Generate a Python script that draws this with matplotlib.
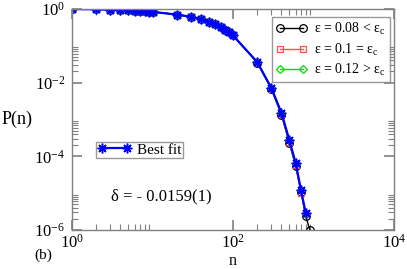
import numpy as np
import matplotlib
matplotlib.use("Agg")
import matplotlib.pyplot as plt
from matplotlib.ticker import FixedLocator, NullFormatter

plt.rcParams['font.family'] = ['Liberation Serif', 'DejaVu Serif']
plt.rcParams['mathtext.fontset'] = 'custom'
plt.rcParams['mathtext.rm'] = 'Liberation Serif'
plt.rcParams['mathtext.it'] = 'Liberation Serif'

# cluster sizes n and probabilities P(n)
n = [1, 2, 3, 4, 5, 6, 7, 8, 9, 10, 20, 30, 40, 50, 60, 70, 80, 90, 100,
     200, 300, 400, 500, 600, 700, 800, 900]
p_low = [0.99, 0.97, 0.95, 0.93, 0.91, 0.89, 0.87, 0.86, 0.84, 0.83, 0.70, 0.61,
         0.53, 0.45, 0.38, 0.32, 0.27, 0.23, 0.19,
         0.035, 0.0066, 1.35e-3, 2.3e-4, 5.5e-5, 1.1e-5, 2.4e-6, 1.0e-6]
p_mid = [0.99, 0.97, 0.95, 0.93, 0.91, 0.89, 0.87, 0.86, 0.84, 0.83, 0.70, 0.61,
         0.53, 0.45, 0.38, 0.32, 0.27, 0.23, 0.19,
         0.036, 0.0069, 1.4e-3, 2.5e-4, 5.8e-5, 1.0e-5, 2.7e-6, None]
p_high = [0.99, 0.97, 0.95, 0.93, 0.91, 0.89, 0.87, 0.86, 0.84, 0.83, 0.70, 0.61,
          0.53, 0.45, 0.38, 0.32, 0.27, 0.23, 0.19,
          0.036, 0.0072, 1.5e-3, 2.7e-4, 6.3e-5, 1.2e-5, 2.8e-6, None]
p_fit = [0.99, 0.97, 0.95, 0.93, 0.91, 0.89, 0.87, 0.86, 0.84, 0.83, 0.70, 0.61,
         0.53, 0.45, 0.38, 0.32, 0.27, 0.23, 0.19,
         0.036, 0.0071, 1.5e-3, 2.8e-4, 6.6e-5, 1.2e-5, 2.9e-6, None]

def clean(xs, ys):
    pts = [(a, b) for a, b in zip(xs, ys) if b is not None]
    return [a for a, b in pts], [b for a, b in pts]

fig = plt.figure(figsize=(4.07, 2.69), dpi=100)
ax = fig.add_axes([0.177, 0.145, 0.791, 0.822])

x1, y1 = clean(n, p_low)
x2, y2 = clean(n, p_mid)
x3, y3 = clean(n, p_high)
x4, y4 = clean(n, p_fit)

l1, = ax.plot(x1, y1, color='black', lw=1, marker='o', ms=5.5, mfc='none', mec='black', mew=0.9)
l2, = ax.plot(x2, y2, color='#ff5050', lw=1, marker='s', ms=5, mfc='none', mec='#ff5050', mew=0.9)
l3, = ax.plot(x3, y3, color='#00e000', lw=1, marker='D', ms=4.5, mfc='none', mec='#00e000', mew=0.9)
l4, = ax.plot(x4, y4, color='#0000ff', lw=1.6, marker=(8, 2, 0), ms=7, mfc='#0000ff', mec='#0000ff', mew=1.1)

ax.set_xscale('log')
ax.set_yscale('log')
ax.set_xlim(1, 1e4)
ax.set_ylim(1e-6, 1)

ax.xaxis.set_major_locator(FixedLocator([1, 1e2, 1e4]))
ax.xaxis.set_minor_locator(FixedLocator([k for k in range(2, 10)] + [k * 100 for k in range(2, 10)]))
ax.yaxis.set_major_locator(FixedLocator([1e-6, 1e-4, 1e-2, 1]))
ax.yaxis.set_minor_locator(FixedLocator([k * 1e-2 for k in range(2, 10)] +
                                        [k * 1e-4 for k in range(2, 10)] +
                                        [k * 1e-6 for k in range(2, 10)]))
ax.xaxis.set_minor_formatter(NullFormatter())
ax.yaxis.set_minor_formatter(NullFormatter())
ax.set_xticklabels([r'$\mathregular{10^{0}}$', r'$\mathregular{10^{2}}$', r'$\mathregular{10^{4}}$'])
ax.set_yticklabels([r'$\mathregular{10^{-6}}$', r'$\mathregular{10^{-4}}$',
                    r'$\mathregular{10^{-2}}$', r'$\mathregular{10^{0}}$'])

for s in ax.spines.values():
    s.set_color('#808080')
    s.set_linewidth(1)
ax.tick_params(which='both', direction='in', top=True, right=True, colors='#808080',
               labelcolor='black', labelsize=12)
ax.tick_params(which='major', length=7, width=1.2)
ax.tick_params(which='minor', length=4, width=0.8)
ax.tick_params(axis='x', pad=3)
ax.tick_params(axis='y', pad=5)

ax.set_xlabel('n', fontsize=11.5, va='bottom')
ax.xaxis.set_label_coords(0.5, -0.176)
ax.set_ylabel('P(n)', fontsize=13, rotation=0, va='center', ha='center')
ax.yaxis.set_label_coords(-0.17, 0.5)

leg1 = ax.legend([l1, l2, l3],
                 [r'ε = 0.08 < ε$_\mathregular{c}$',
                  r'ε = 0.1 = ε$_\mathregular{c}$',
                  r'ε = 0.12 > ε$_\mathregular{c}$'],
                 loc='upper right', bbox_to_anchor=(0.995, 0.975), numpoints=2,
                 fontsize=10, frameon=True, fancybox=False, edgecolor='#808080',
                 handlelength=2.2, handletextpad=0.5, borderpad=0.3, labelspacing=0.3,
                 borderaxespad=0.2)
leg1.get_frame().set_linewidth(1)
ax.add_artist(leg1)
leg2 = ax.legend([l4], ['Best fit'], loc='upper left', bbox_to_anchor=(0.075, 0.40),
                 numpoints=2, fontsize=11, frameon=True, fancybox=False, edgecolor='#808080',
                 handlelength=2.2, handletextpad=0.4, borderpad=0.1, borderaxespad=0)
leg2.get_frame().set_linewidth(1)

ax.text(0.12, 0.15, r'δ = - 0.0159(1)', transform=ax.transAxes,
        fontsize=12, ha='left', va='center')
fig.text(0.085, 0.05, '(b)', fontsize=11, ha='left', va='center')

fig.savefig('out.png', dpi=100)
